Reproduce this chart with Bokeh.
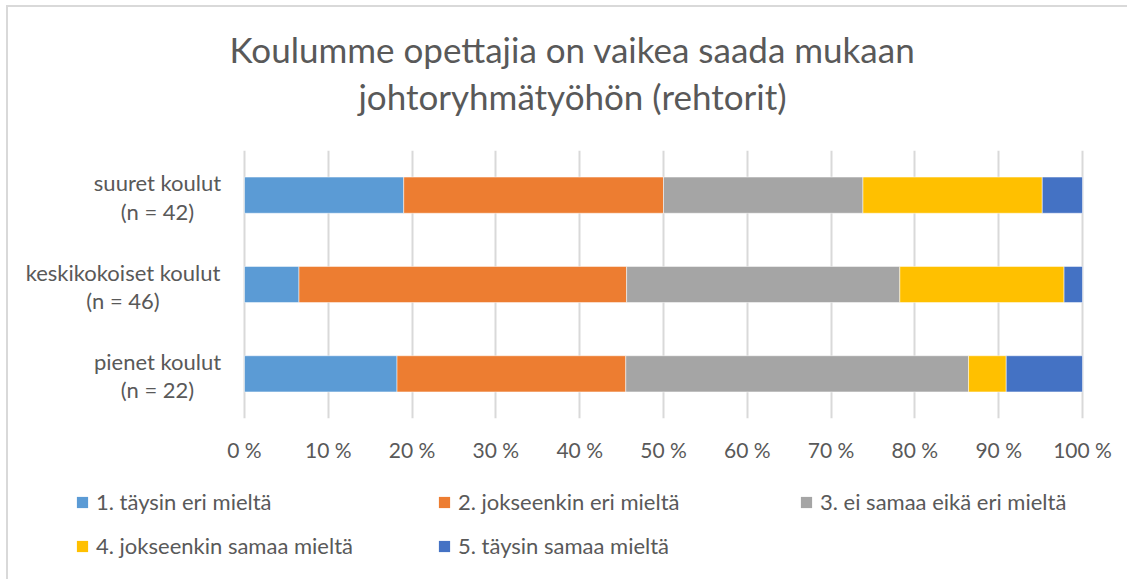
from bokeh.plotting import figure
from bokeh.layouts import column
from bokeh.models import (Range1d, FactorRange, FixedTicker, Label, Legend, LegendItem)
from bokeh.embed import file_html
from bokeh.resources import INLINE

# ---------------- data ----------------
categories = ["pienet koulut", "keskikokoiset koulut", "suuret koulut"]   # bottom -> top
cat_line2 = ["(n = 22)", "(n = 46)", "(n = 42)"]
series = ["1. täysin eri mieltä", "2. jokseenkin eri mieltä", "3. ei samaa eikä eri mieltä",
          "4. jokseenkin samaa mieltä", "5. täysin samaa mieltä"]
s1 = [18.2, 6.5, 19.0]
s2 = [27.3, 39.1, 31.0]
s3 = [40.9, 32.6, 23.8]
s4 = [4.5, 19.6, 21.4]
s5 = [9.1, 2.2, 4.8]
tick_values = [0, 10, 20, 30, 40, 50, 60, 70, 80, 90, 100]
tick_labels = ["0 %", "10 %", "20 %", "30 %", "40 %", "50 %", "60 %", "70 %", "80 %", "90 %", "100 %"]
title_lines = ["Koulumme opettajia on vaikea saada mukaan", "johtoryhmätyöhön (rehtorit)"]

colors = ["#5B9BD5", "#ED7D31", "#A5A5A5", "#FFC000", "#4472C4"]
FONT = "Lato"
TXT = "#595959"
BORDER = "#D9D9D9"

# ---------------- layout constants (pixels) ----------------
W = 1127
TITLE_H = 150
FRAME_H = 268
AXIS_H = 52
LEG_H = 579 - TITLE_H - FRAME_H - AXIS_H
PX0, PX100 = 244, 1082           # screen x of 0 % and 100 %
ppu = (PX100 - PX0) / 100.0


def bare(fig):
    fig.outline_line_color = None
    fig.background_fill_alpha = 0
    fig.border_fill_alpha = 0
    return fig


source = dict(cat=categories, s1=s1, s2=s2, s3=s3, s4=s4, s5=s5)
keys = ["s1", "s2", "s3", "s4", "s5"]

# ---------------- title strip ----------------
pt = bare(figure(width=W, height=TITLE_H, x_range=Range1d(0, 1), y_range=Range1d(0, 1),
                 output_backend="svg", toolbar_location=None, title=None,
                 min_border=0, x_axis_type=None, y_axis_type=None))
pt.grid.visible = False
for txt, yy in zip(title_lines, [TITLE_H - 48, TITLE_H - 95]):
    pt.add_layout(Label(x=572, y=yy, x_units="screen", y_units="screen", text=txt,
                        text_align="center", text_baseline="alphabetic",
                        text_font=FONT, text_font_size="35px", text_color=TXT))

# ---------------- main chart ----------------
p = bare(figure(width=W, height=FRAME_H + AXIS_H,
                x_range=Range1d(-PX0 / ppu, (W - PX0) / ppu), y_range=FactorRange(*categories),
                output_backend="svg", toolbar_location=None, title=None,
                min_border_left=0, min_border_right=0, min_border_top=0, min_border_bottom=AXIS_H))

p.hbar_stack(keys, y="cat", height=0.405, color=colors, source=source,
             line_color="white", line_alpha=0.5, line_width=1)

p.yaxis.visible = False
p.ygrid.grid_line_color = None
p.xgrid.ticker = FixedTicker(ticks=tick_values)
p.xgrid.grid_line_color = "#D9D9D9"
p.xgrid.grid_line_width = 2

xa = p.xaxis[0]
xa.ticker = FixedTicker(ticks=tick_values)
xa.major_label_overrides = {v: t for v, t in zip(tick_values, tick_labels)}
xa.axis_line_color = None
xa.major_tick_line_color = None
xa.minor_tick_line_color = None
xa.major_tick_out = 0
xa.major_tick_in = 0
xa.major_label_standoff = 18
xa.major_label_text_font = FONT
xa.major_label_text_font_size = "21px"
xa.major_label_text_color = TXT

# category labels: two centred lines, block right-aligned near the 0 % line
centers = [157, 122.5, 157]
n = len(categories)
for i, (l1, l2, cx) in enumerate(zip(categories, cat_line2, centers)):
    yc = (i + 0.5) * FRAME_H / n
    for txt, yo in ((l1, 12.5), (l2, -16)):
        p.add_layout(Label(x=cx, y=yc + yo, x_units="screen", y_units="screen",
                           text=txt, text_align="center", text_baseline="alphabetic",
                           text_font=FONT, text_font_size="22px", text_color=TXT))

# ---------------- legend strip ----------------
pl = bare(figure(width=W, height=LEG_H, x_range=Range1d(0, 100), y_range=FactorRange(*categories),
                 output_backend="svg", toolbar_location=None, title=None,
                 min_border=0, x_axis_type=None, y_axis_type=None))
pl.grid.visible = False
leg_rs = pl.hbar_stack(keys, y="cat", height=0.405, color=colors, source=source, line_color=None)
for r in leg_rs:
    r.visible = False
items = [LegendItem(label=s, renderers=[r]) for s, r in zip(series, leg_rs)]
legend = Legend(items=items, location=(75, 20), orientation="horizontal", ncols=3,
                glyph_width=14, glyph_height=14, label_standoff=7, label_width=324, spacing=17,
                margin=0, padding=0, border_line_color=None, background_fill_alpha=0,
                inactive_fill_alpha=0, click_policy="none",
                label_text_font=FONT, label_text_font_size="22px", label_text_color=TXT)
pl.add_layout(legend, "center")

layout = column(pt, p, pl, spacing=0)
layout.styles = {
    "background-color": "white",
    "background-image": f"linear-gradient({BORDER},{BORDER}), linear-gradient({BORDER},{BORDER})",
    "background-size": "2px 100%, 100% 2px",
    "background-position": "6px 5px, 6px 5px",
    "background-repeat": "no-repeat",
}
open("out.html", "w").write(file_html(layout, INLINE))
